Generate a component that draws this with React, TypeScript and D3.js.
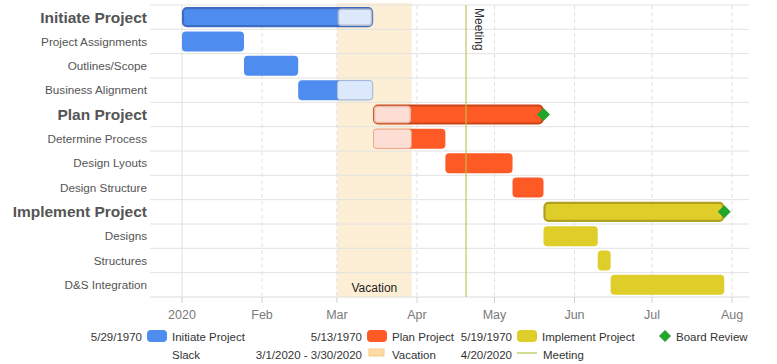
import * as d3 from "d3";

const W = 777;
const H = 364;
const PLOT = { left: 150, right: 749, top: 5, bottom: 297 };
const FONT = "'Liberation Sans', Arial, sans-serif";

const rowLabels = [
  "Initiate Project",
  "Project Assignments",
  "Outlines/Scope",
  "Business Alignment",
  "Plan Project",
  "Determine Process",
  "Design Lyouts",
  "Design Structure",
  "Implement Project",
  "Designs",
  "Structures",
  "D&S Integration",
];
const summaryRows = ["Initiate Project", "Plan Project", "Implement Project"];
const taskStart = [
  "2020-01-01", "2020-01-01", "2020-01-25", "2020-02-15",
  "2020-03-15", "2020-03-15", "2020-04-12", "2020-05-08",
  "2020-05-20", "2020-05-20", "2020-06-10", "2020-06-15",
];
const taskEnd = [
  "2020-03-15", "2020-01-25", "2020-02-15", "2020-03-15",
  "2020-05-20", "2020-04-12", "2020-05-08", "2020-05-20",
  "2020-07-29", "2020-06-10", "2020-06-15", "2020-07-29",
];
const taskGroup = [0, 0, 0, 0, 1, 1, 1, 1, 2, 2, 2, 2];

const milestoneRows = ["Plan Project", "Implement Project"];
const milestoneDates = ["2020-05-20", "2020-07-29"];

const vacation = ["2020-03-01", "2020-03-30"];
const meetingDate = "2020-04-20";

const tickLabels = ["2020", "Feb", "Mar", "Apr", "May", "Jun", "Jul", "Aug"];

const groupNames = ["Initiate Project", "Plan Project", "Implement Project"];
const groupDurations = ["5/29/1970", "5/13/1970", "5/19/1970"];
const groupColors = ["#4f8cf0", "#fe5a26", "#dfcd2a"];
const groupBorders = ["#3d6cc0", "#cc4418", "#afa020"];
const groupLight = ["#dce8fb", "#fcded4", "#f6f0c0"];
const groupLightBorder = ["#b4bccb", "#e8b8a8", "#d8d0a0"];

const parse = d3.timeParse("%Y-%m-%d");
const fmt = d3.timeFormat("%-m/%-d/%Y");

export default function App() {
  const x = d3
    .scaleTime()
    .domain([parse("2020-01-01")!, parse("2020-08-01")!])
    .range([182, 732]);

  const y = d3
    .scaleBand<string>()
    .domain(rowLabels)
    .range([PLOT.top, PLOT.bottom])
    .padding(0);

  const bw = y.bandwidth();
  const barH = 20;

  const months = d3.timeMonth.range(parse("2020-01-01")!, parse("2020-08-02")!);

  const vacStart = parse(vacation[0])!;
  const vacEnd = parse(vacation[1])!;
  const vx0 = x(vacStart);
  const vx1 = x(vacEnd);
  const mx = x(parse(meetingDate)!);

  const bars = rowLabels.map((name, i) => {
    const s = parse(taskStart[i])!;
    const e = parse(taskEnd[i])!;
    const g = taskGroup[i];
    const isSummary = summaryRows.includes(name);
    const x0 = x(s);
    const x1 = x(e);
    const cy = (y(name) || 0) + bw / 2;
    const by = cy - barH / 2;
    // part of bar overlapping the vacation is drawn light
    const ox0 = Math.max(x0, vx0);
    const ox1 = Math.min(x1, vx1);
    const overlap = ox1 > ox0;
    return (
      <g key={name}>
        <rect
          x={x0 + (isSummary ? 1 : 0)}
          y={by + (isSummary ? 1 : 0)}
          width={x1 - x0 - (isSummary ? 2 : 0)}
          height={barH - (isSummary ? 2 : 0)}
          rx={4}
          fill={groupColors[g]}
          stroke={isSummary ? groupBorders[g] : "none"}
          strokeWidth={isSummary ? 2.2 : 0}
        />
        {overlap && (
          <rect
            x={ox0 + (isSummary ? 1.5 : 0.5)}
            y={by + (isSummary ? 2 : 0.5)}
            width={ox1 - ox0 - (isSummary ? 3 : 1)}
            height={barH - (isSummary ? 4 : 1)}
            rx={3}
            fill={groupLight[g]}
            stroke={groupLightBorder[g]}
            strokeWidth={isSummary ? 1.5 : 0.6}
          />
        )}
      </g>
    );
  });

  const diamonds = milestoneRows.map((name, i) => {
    const cx = x(parse(milestoneDates[i])!);
    const cy = (y(name) || 0) + bw / 2;
    const r = 6.5;
    return (
      <path
        key={name}
        d={`M${cx},${cy - r}L${cx + r},${cy}L${cx},${cy + r}L${cx - r},${cy}Z`}
        fill="#22a52a"
      />
    );
  });

  return (
    <svg
      width={W}
      height={H}
      style={{ position: "absolute", left: 0, top: 0, fontFamily: FONT }}
    >
      <rect width={W} height={H} fill="white" />

      {/* vacation band */}
      <rect
        x={vx0}
        y={PLOT.top - 2}
        width={vx1 - vx0}
        height={PLOT.bottom - PLOT.top + 2}
        fill="#fdefd6"
      />

      {/* horizontal row lines */}
      {rowLabels.map((name) => (
        <line
          key={name}
          x1={PLOT.left}
          x2={PLOT.right}
          y1={y(name)}
          y2={y(name)}
          stroke="#e2e2e2"
        />
      ))}
      <line
        x1={PLOT.left}
        x2={PLOT.right}
        y1={PLOT.bottom}
        y2={PLOT.bottom}
        stroke="#dcdcdc"
      />

      {/* vertical month grid + ticks */}
      {months.map((m, i) => (
        <g key={i}>
          <line
            x1={x(m)}
            x2={x(m)}
            y1={PLOT.top}
            y2={PLOT.bottom}
            stroke="#e0e0e0"
            strokeDasharray={i === 0 ? undefined : "4,3"}
          />
          <line
            x1={x(m)}
            x2={x(m)}
            y1={PLOT.bottom}
            y2={PLOT.bottom + 6}
            stroke="#d0d0d0"
          />
          <text
            x={x(m)}
            y={319}
            textAnchor="middle"
            fontSize={12.5}
            fill="#7a7a7a"
          >
            {tickLabels[i]}
          </text>
        </g>
      ))}

      <text
        x={(vx0 + vx1) / 2}
        y={292}
        textAnchor="middle"
        fontSize={12}
        fill="#222"
      >
        Vacation
      </text>

      {bars}

      {/* meeting line */}
      <line
        x1={mx}
        x2={mx}
        y1={PLOT.top}
        y2={PLOT.bottom}
        stroke="#b8c24a"
        strokeWidth={1.2}
        opacity={0.9}
      />
      <text
        transform={`translate(${mx + 8.5},8) rotate(90)`}
        fontSize={12}
        fill="#333"
      >
        Meeting
      </text>

      {diamonds}

      {/* row labels */}
      {rowLabels.map((name) => {
        const bold = summaryRows.includes(name);
        return (
          <text
            key={name}
            x={147}
            y={(y(name) || 0) + bw / 2}
            dy="0.35em"
            textAnchor="end"
            fontSize={bold ? 15.5 : 11.7}
            fontWeight={bold ? "bold" : "normal"}
            fill="#555"
          >
            {name}
          </text>
        );
      })}

      {/* legend */}
      <g fontSize={11.5} fill="#333">
        {groupNames.map((name, i) => {
          const sx = [147, 367, 517][i];
          return (
            <g key={name}>
              <text x={sx - 5} y={341} textAnchor="end">
                {groupDurations[i]}
              </text>
              <rect
                x={sx}
                y={330}
                width={20}
                height={12}
                rx={4}
                fill={groupColors[i]}
              />
              <text x={sx + 25} y={341}>
                {name}
              </text>
            </g>
          );
        })}
        <path d="M665,330L671,336L665,342L659,336Z" fill="#22a52a" />
        <text x={676} y={341}>
          Board Review
        </text>

        <text x={172} y={359}>
          Slack
        </text>
        <text x={362} y={359} textAnchor="end">
          {`${fmt(vacStart)} - ${fmt(vacEnd)}`}
        </text>
        <rect
          x={369}
          y={349}
          width={15}
          height={7}
          fill="#fddca4"
          stroke="#f5c98a"
        />
        <text x={392} y={359}>
          Vacation
        </text>
        <text x={512} y={359} textAnchor="end">
          {fmt(parse(meetingDate)!)}
        </text>
        <line x1={517} x2={537} y1={353} y2={353} stroke="#b8c24a" strokeWidth={1.2} />
        <text x={543} y={359}>
          Meeting
        </text>
      </g>
    </svg>
  );
}
